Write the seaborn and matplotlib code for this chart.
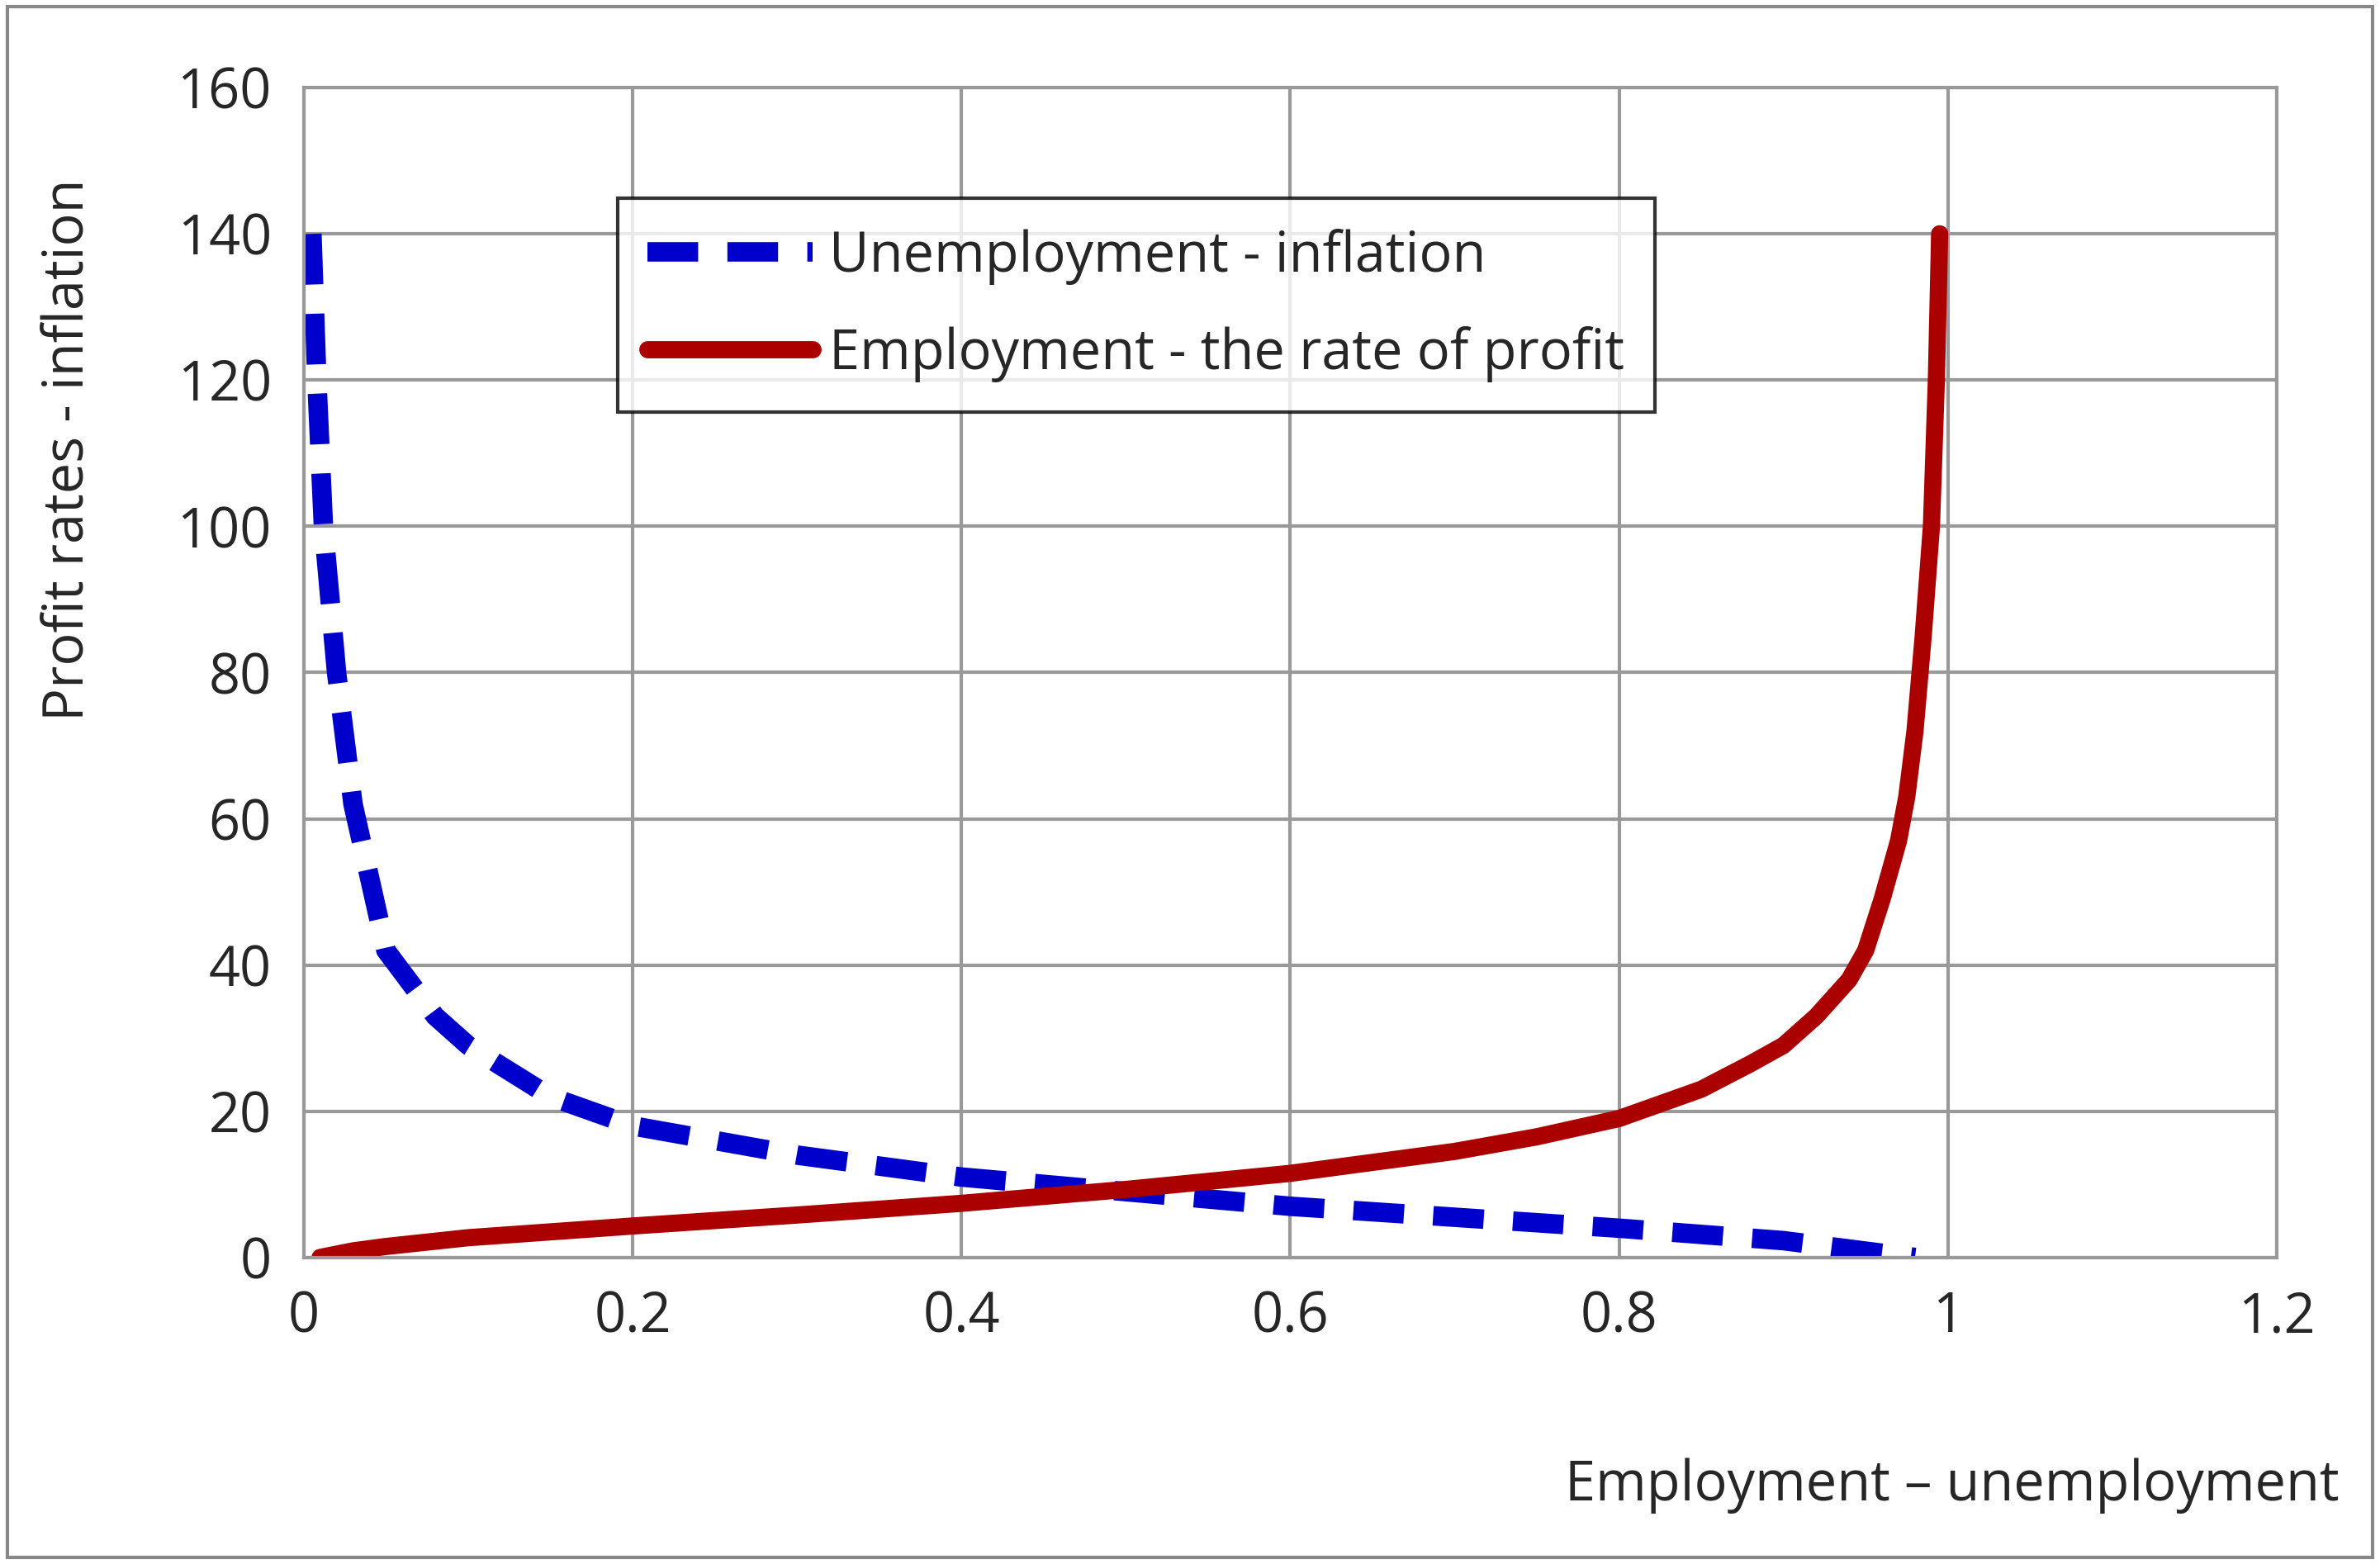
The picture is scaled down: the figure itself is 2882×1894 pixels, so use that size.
import matplotlib
matplotlib.use("Agg")
import matplotlib.pyplot as plt
import seaborn as sns

blue_x = [0.005, 0.008, 0.012, 0.02, 0.03, 0.05, 0.08, 0.1, 0.15, 0.2, 0.3, 0.4, 0.5, 0.6, 0.7, 0.8, 0.9, 0.98]
blue_y = [140, 120, 100, 80, 62, 42, 33, 29, 22, 18, 14, 11, 9, 7, 5.5, 4, 2.3, 0]
red_x = [0.01, 0.03, 0.05, 0.1, 0.2, 0.3, 0.4, 0.5, 0.6, 0.7, 0.75, 0.8, 0.85, 0.88, 0.9, 0.92, 0.94, 0.95, 0.96, 0.97, 0.975, 0.98, 0.985, 0.99, 0.993, 0.995]
red_y = [0, 0.9, 1.5, 2.7, 4.3, 5.8, 7.4, 9.3, 11.5, 14.5, 16.5, 19, 23, 26.5, 29, 33, 38, 42, 49, 57, 63, 72, 85, 100, 120, 140]

sns.set_theme(style="white")
plt.rcParams['font.family'] = ['Open Sans', 'DejaVu Sans']

fig = plt.figure(figsize=(14.41, 9.47), dpi=200)
ax = fig.add_axes([0.1276, 0.196, 0.829, 0.748])
sns.lineplot(x=blue_x, y=blue_y, ax=ax, color="#0000CC", lw=8.5, sort=False,
             label="Unemployment - inflation")
ax.lines[-1].set_dashes([2.6, 1.5])
sns.lineplot(x=red_x, y=red_y, ax=ax, color="#AA0000", lw=7.5, sort=False,
             label="Employment - the rate of profit")
ax.set_xlim(0, 1.2)
ax.set_ylim(0, 160)
ax.set_xticks([0, 0.2, 0.4, 0.6, 0.8, 1, 1.2])
ax.set_xticklabels(["0", "0.2", "0.4", "0.6", "0.8", "1", "1.2"])
ax.set_yticks(range(0, 161, 20))
ax.grid(True, color="#999999", lw=1.5)
for s in ax.spines.values():
    s.set_color("#999999"); s.set_linewidth(1.5)
ax.tick_params(labelsize=24, length=0, pad=14)
ax.set_ylabel("Profit rates - inflation", fontsize=24)
ax.yaxis.set_label_coords(-0.105, 0.69)
fig.text(0.983, 0.05, "Employment – unemployment", fontsize=24, ha="right", va="center")
leg = ax.legend(loc="upper left", bbox_to_anchor=(0.145, 0.929), fontsize=24,
                frameon=True, fancybox=False, edgecolor="black", handlelength=3.0,
                labelspacing=0.75, borderpad=0.55, handletextpad=0.3)
leg.get_frame().set_linewidth(1.5)
fig.add_artist(plt.Rectangle((0.003, 0.004), 0.994, 0.992, transform=fig.transFigure,
                             fill=False, edgecolor="#888888", lw=1.5))
fig.savefig("out.png", dpi=200)
